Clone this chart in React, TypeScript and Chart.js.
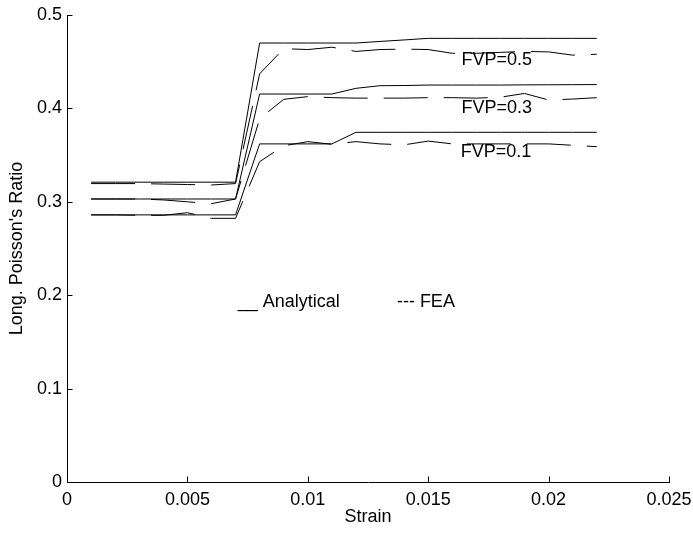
import React, { useEffect, useRef } from 'react';
import { Chart, registerables } from 'chart.js';

Chart.register(...registerables);

// ---- data ----
const strain = [
  0.001, 0.002, 0.003, 0.004, 0.005, 0.006, 0.007, 0.008, 0.009, 0.010, 0.011,
  0.012, 0.013, 0.014, 0.015, 0.016, 0.017, 0.018, 0.019, 0.020, 0.021, 0.022,
];

const analytical05 = [
  0.321, 0.321, 0.321, 0.321, 0.321, 0.321, 0.321, 0.470, 0.470, 0.470, 0.470,
  0.470, 0.4717, 0.4733, 0.475, 0.475, 0.475, 0.475, 0.475, 0.475, 0.475, 0.475,
];
const analytical03 = [
  0.303, 0.303, 0.303, 0.303, 0.303, 0.303, 0.303, 0.4154, 0.4154, 0.4154, 0.4154,
  0.4215, 0.4243, 0.4245, 0.425, 0.425, 0.425, 0.425, 0.4252, 0.4253, 0.4254, 0.4255,
];
const analytical01 = [
  0.286, 0.286, 0.286, 0.286, 0.286, 0.286, 0.286, 0.362, 0.362, 0.362, 0.362,
  0.3744, 0.3744, 0.3744, 0.3744, 0.3744, 0.3744, 0.3744, 0.3744, 0.3744, 0.3744, 0.3744,
];

const fea05 = [
  0.3195, 0.3195, 0.3195, 0.319, 0.3185, 0.318, 0.3195, 0.437, 0.464, 0.463, 0.4655,
  0.461, 0.463, 0.4635, 0.463, 0.459, 0.459, 0.460, 0.461, 0.4605, 0.457, 0.458,
];
const fea03 = [
  0.303, 0.303, 0.303, 0.302, 0.300, 0.298, 0.303, 0.389, 0.4097, 0.4126, 0.4115,
  0.411, 0.411, 0.411, 0.4115, 0.4115, 0.411, 0.412, 0.416, 0.409, 0.410, 0.4115,
];
const fea01 = [
  0.286, 0.286, 0.2855, 0.2855, 0.2883, 0.2823, 0.2823, 0.343, 0.360, 0.3644, 0.3616,
  0.3644, 0.362, 0.361, 0.365, 0.362, 0.362, 0.362, 0.362, 0.362, 0.3605, 0.359,
];

const xTickValues = [0, 0.005, 0.01, 0.015, 0.02, 0.025];
const xTickLabels = ['0', '0.005', '0.01', '0.015', '0.02', '0.025'];
const yTickValues = [0, 0.1, 0.2, 0.3, 0.4, 0.5];
const yTickLabels = ['0', '0.1', '0.2', '0.3', '0.4', '0.5'];

// text annotations (data coordinates)
const seriesLabels = ['FVP=0.5', 'FVP=0.3', 'FVP=0.1'];
const seriesLabelX = [0.01638, 0.01638, 0.01635];
const seriesLabelY = [0.4467, 0.3954, 0.3476];
const legendTexts = ['__ Analytical', '--- FEA'];
const legendX = [0.00709, 0.0137];
const legendY = [0.187, 0.187];

const FONT = '"Liberation Sans", Arial, Helvetica, sans-serif';

const pts = (ys: number[]) => strain.map((x, i) => ({ x, y: ys[i] }));

const overlayPlugin = {
  id: 'overlay',
  afterDraw(chart: any) {
    const ctx = chart.ctx;
    const xs = chart.scales.x;
    const ys = chart.scales.y;
    const area = chart.chartArea;
    ctx.save();
    ctx.strokeStyle = '#000';
    ctx.lineWidth = 1;
    ctx.beginPath();
    xs.ticks.forEach((t: any) => {
      const px = Math.round(xs.getPixelForValue(t.value)) + 0.5;
      const b = Math.round(area.bottom) + 0.5;
      ctx.moveTo(px, b);
      ctx.lineTo(px, b - 6);
    });
    ys.ticks.forEach((t: any) => {
      const py = Math.round(ys.getPixelForValue(t.value)) + 0.5;
      const l = Math.round(area.left) + 0.5;
      ctx.moveTo(l, py);
      ctx.lineTo(l + 5, py);
    });
    ctx.stroke();

    ctx.fillStyle = '#000';
    ctx.font = `18px ${FONT}`;
    ctx.textAlign = 'left';
    ctx.textBaseline = 'alphabetic';
    seriesLabels.forEach((s, i) => {
      ctx.fillText(s, xs.getPixelForValue(seriesLabelX[i]), ys.getPixelForValue(seriesLabelY[i]));
    });
    legendTexts.forEach((s, i) => {
      ctx.fillText(s, xs.getPixelForValue(legendX[i]), ys.getPixelForValue(legendY[i]));
    });
    ctx.restore();
  },
};

export default function App() {
  const ref = useRef<HTMLCanvasElement | null>(null);

  useEffect(() => {
    if (!ref.current) return;
    const solid = (ys: number[]) => ({
      data: pts(ys),
      borderColor: '#000',
      borderWidth: 1,
      pointRadius: 0,
      fill: false,
      tension: 0,
    });
    const dashed = (ys: number[]) => ({
      data: pts(ys),
      borderColor: '#000',
      borderWidth: 1,
      borderDash: [44, 16],
      pointRadius: 0,
      fill: false,
      tension: 0,
    });
    const chart = new Chart(ref.current, {
      type: 'line',
      data: {
        datasets: [
          { label: 'Analytical FVP=0.5', ...solid(analytical05) },
          { label: 'Analytical FVP=0.3', ...solid(analytical03) },
          { label: 'Analytical FVP=0.1', ...solid(analytical01) },
          { label: 'FEA FVP=0.5', ...dashed(fea05) },
          { label: 'FEA FVP=0.3', ...dashed(fea03) },
          { label: 'FEA FVP=0.1', ...dashed(fea01) },
        ] as any,
      },
      options: {
        animation: false,
        responsive: false,
        events: [],
        layout: { padding: { top: 15, right: 24, left: 0, bottom: 0 } },
        plugins: { legend: { display: false }, tooltip: { enabled: false } },
        scales: {
          x: {
            type: 'linear',
            min: 0,
            max: 0.025,
            afterBuildTicks: (s: any) => {
              s.ticks = xTickValues.map((v) => ({ value: v }));
            },
            afterFit: (s: any) => {
              s.height = 52;
              s.paddingLeft = 0;
              s.paddingRight = 0;
            },
            grid: { display: false, drawTicks: false },
            border: { display: true, color: '#000', width: 1 },
            ticks: {
              color: '#000',
              padding: 7,
              maxRotation: 0,
              autoSkip: false,
              font: { family: FONT, size: 18 },
              callback: (_v: any, i: number) => xTickLabels[i],
            },
            title: {
              display: true,
              text: 'Strain',
              color: '#000',
              font: { family: FONT, size: 18 },
              padding: { top: 0, bottom: 6 },
            },
          },
          y: {
            type: 'linear',
            min: 0,
            max: 0.5,
            afterBuildTicks: (s: any) => {
              s.ticks = yTickValues.map((v) => ({ value: v }));
            },
            afterFit: (s: any) => {
              s.width = 67;
              s.paddingTop = 0;
              s.paddingBottom = 0;
            },
            grid: { display: false, drawTicks: false },
            border: { display: true, color: '#000', width: 1 },
            ticks: {
              color: '#000',
              padding: 5,
              autoSkip: false,
              font: { family: FONT, size: 18 },
              callback: (_v: any, i: number) => yTickLabels[i],
            },
            title: {
              display: true,
              text: "Long. Poisson's Ratio",
              color: '#000',
              font: { family: FONT, size: 18 },
              padding: { top: 6, bottom: 0 },
            },
          },
        },
      } as any,
      plugins: [overlayPlugin],
    });
    return () => chart.destroy();
  }, []);

  return (
    <div style={{ position: 'fixed', left: 0, top: 0, width: 693, height: 534, background: '#fff' }}>
      <canvas ref={ref} width={693} height={534} style={{ display: 'block' }} />
    </div>
  );
}
